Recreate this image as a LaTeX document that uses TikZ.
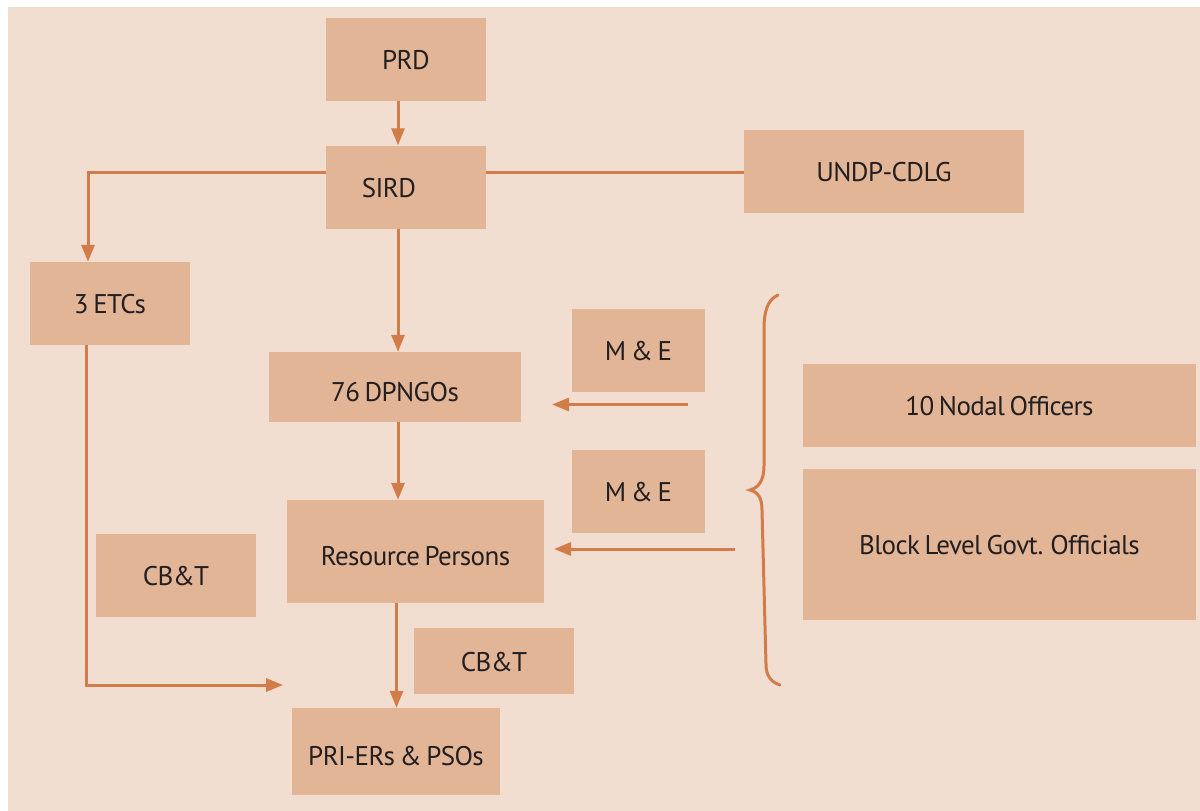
\documentclass[tikz,border=0pt]{standalone}
\usepackage{fontspec}
\setmainfont{PT Sans}[LetterSpace=-2.2, WordSpace=0.7]
\usetikzlibrary{arrows.meta}

\definecolor{pagebg}{HTML}{F1DED0}
\definecolor{boxfill}{HTML}{E2B597}
\definecolor{linkcol}{HTML}{D27C4A}
\definecolor{inkcol}{HTML}{231F20}

\begin{document}
\begin{tikzpicture}[
    x=1pt, y=-1pt,
    every node/.style={font=\fontsize{27}{32}\selectfont, text=inkcol},
    blk/.style={fill=boxfill, inner sep=0pt, anchor=center,
                text height=20pt, text depth=0pt},
    lowtext/.style={text height=28pt},
    link/.style={draw=linkcol, line width=3pt},
    arr/.style={link, -{Triangle[length=17pt,width=13pt]}},
  ]
  \useasboundingbox (0,0) rectangle (1200,811);
  \fill[white] (0,0) rectangle (1200,811);
  \fill[pagebg] (8,7) rectangle (1200,811);

  % boxes
  \node[blk, minimum width=160pt, minimum height=83pt] (prd)  at (406,59.5)  {PRD};
  \node[blk, minimum width=160pt, minimum height=83pt] (sird) at (406,187)   {\hspace*{-34pt}SIRD};
  \node[blk, minimum width=280pt, minimum height=83pt] (undp) at (884,171.5) {UNDP-CDLG};
  \node[blk, minimum width=160pt, minimum height=83pt] (etc)  at (110,303.5) {3 ETCs};
  \node[blk, lowtext, minimum width=252pt, minimum height=70pt] (dpn) at (395,387) {76 DPNGOs};
  \node[blk, minimum width=133pt, minimum height=83pt] (me1)  at (638.5,350.5) {M \& E};
  \node[blk, minimum width=133pt, minimum height=83pt] (me2)  at (638.5,491.5) {M \& E};
  \node[blk, minimum width=393pt, minimum height=83pt] (nod)  at (999.5,405.5) {10 Nodal Officers};
  \node[blk, minimum width=393pt, minimum height=151pt] (blo) at (999.5,544.5) {Block Level Govt. Officials};
  \node[blk, lowtext, minimum width=257pt, minimum height=103pt] (rp) at (415.5,551.5) {Resource Persons};
  \node[blk, minimum width=160pt, minimum height=83pt] (cbl)  at (176,575.5) {CB\&T};
  \node[blk, minimum width=160pt, minimum height=66pt] (cbr)  at (494,661)   {CB\&T};
  \node[blk, lowtext, minimum width=208pt, minimum height=87pt] (pri) at (396,751.5) {PRI-ERs \& PSOs};

  % free ends of the side arrows
  \coordinate (etcend) at (283,685);
  \coordinate (mefrom1) at (688,404.5);
  \coordinate (meto1)   at (552,404.5);
  \coordinate (mefrom2) at (735,549);
  \coordinate (meto2)   at (554,549);

  % connectors
  \draw[arr]  (prd.south -| 398,0) -- (sird.north -| 398,0);
  \draw[link] (sird.east |- 0,172) -- (undp.west |- 0,172);
  \draw[arr]  (sird.west |- 0,172) -| (etc.north -| 88,0);
  \draw[arr]  (sird.south -| 398,0) -- (dpn.north -| 398,0);
  \draw[arr]  (dpn.south -| 398,0) -- (rp.north -| 398,0);
  \draw[arr]  (rp.south -| 396.5,0) -- (pri.north -| 396.5,0);
  \draw[arr]  (etc.south -| 86,0) |- (etcend);
  \draw[arr]  (mefrom1) -- (meto1);
  \draw[arr]  (mefrom2) -- (meto2);

  % curly brace grouping the officials
  \draw[link, line cap=round]
    (778,295) .. controls (767,300) and (764,312) .. (764,330)
    -- (764,466) .. controls (764,481) and (758,488) .. (750,490)
    .. controls (758,492) and (762,498) .. (762,510)
    -- (766,664) .. controls (766,676) and (771,682) .. (780,685);
\end{tikzpicture}
\end{document}
